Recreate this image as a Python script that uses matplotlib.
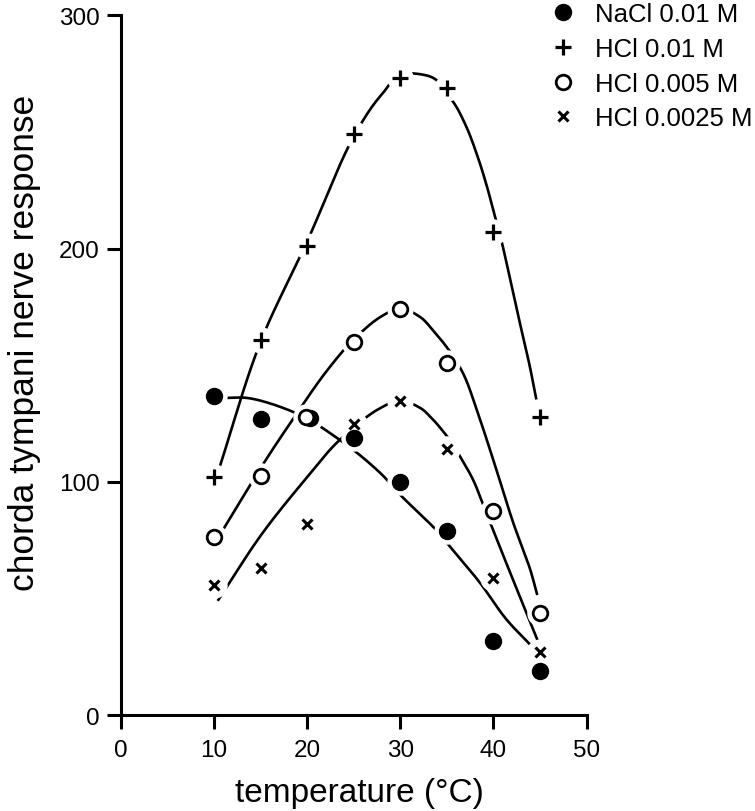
import numpy as np
import matplotlib
matplotlib.use('Agg')
import matplotlib.pyplot as plt
from matplotlib.lines import Line2D

plt.rcParams['font.family'] = ['Liberation Sans', 'DejaVu Sans']

# measured points
temps = [10, 15, 20, 25, 30, 35, 40, 45]
nacl_x = [10, 15, 20.3, 25, 30, 35, 40, 45]
nacl = [137, 127, 127.5, 119, 100, 79, 32, 19]
hcl_01 = [102, 161, 201, 249, 273, 269, 207, 128]
hcl_005_x = [10, 15, 19.9, 25, 30, 35, 40, 45]
hcl_005 = [76.5, 102.5, 128, 160, 174, 151, 87.5, 44]
hcl_0025 = [56, 63, 82, 125, 134.5, 114, 59, 27]

# hand-drawn curves, knots
nacl_cx = [11.4, 13.5, 18.5, 23.5, 27.8, 30.1, 33.7, 35.3, 38.5, 41.4, 43.9]
nacl_cy = [136, 136, 130, 118, 104, 94, 80, 72.4, 57, 41, 30.4]
hcl_01_cx = [10.5, 15, 20, 25, 28, 30.5, 33, 35.5, 37.0, 38.3, 39.3, 40.1, 40.9, 42.5, 43.9, 44.6]
hcl_01_cy = [105, 160, 203, 248, 266, 275, 274, 263.8, 253, 239.4, 226.6, 214.6, 202.6, 173.9, 149.5, 135.3]
hcl_005_cx = [10.9, 15.5, 18.5, 22, 25, 28, 30, 32, 33.5, 35.3, 36.8, 38.2, 40.3, 42.1, 43.9, 44.7]
hcl_005_cy = [79, 109, 127, 147, 161, 171, 174.5, 171, 165, 156, 146, 131, 105.4, 82.7, 63, 51.5]
hcl_0025_cx = [10.4, 15.2, 20, 23.5, 27.8, 30, 32, 33.2, 35.3, 36.4, 37.8, 38.8, 39.8, 42.1, 45]
hcl_0025_cy = [49, 78, 102, 118, 131.5, 135, 132, 128, 118, 111, 101, 91.2, 81, 58, 29.5]

labels = ['NaCl 0.01 M', 'HCl 0.01 M', 'HCl 0.005 M', 'HCl 0.0025 M']


def smooth(xs, ys, n=20):
	# centripetal catmull-rom through the knots
	p = np.column_stack([xs, ys]).astype(float)
	p = np.vstack([2*p[0] - p[1], p, 2*p[-1] - p[-2]])
	out = []
	for i in range(1, len(p) - 2):
		p0, p1, p2, p3 = p[i-1], p[i], p[i+1], p[i+2]
		t0 = 0.0
		t1 = t0 + np.linalg.norm(p1 - p0) ** 0.5
		t2 = t1 + np.linalg.norm(p2 - p1) ** 0.5
		t3 = t2 + np.linalg.norm(p3 - p2) ** 0.5
		t = np.linspace(t1, t2, n, endpoint=False)[:, None]
		a1 = (t1 - t) / (t1 - t0) * p0 + (t - t0) / (t1 - t0) * p1
		a2 = (t2 - t) / (t2 - t1) * p1 + (t - t1) / (t2 - t1) * p2
		a3 = (t3 - t) / (t3 - t2) * p2 + (t - t2) / (t3 - t2) * p3
		b1 = (t2 - t) / (t2 - t0) * a1 + (t - t0) / (t2 - t0) * a2
		b2 = (t3 - t) / (t3 - t1) * a2 + (t - t1) / (t3 - t1) * a3
		out.append((t2 - t) / (t2 - t1) * b1 + (t - t1) / (t2 - t1) * b2)
	out.append(p[-2][None, :])
	out = np.vstack(out)
	return out[:, 0], out[:, 1]


fig = plt.figure(figsize=(7.55, 8.12), dpi=100)
ax = fig.add_axes([0.160, 0.118, 0.617, 0.862])

for cx, cy in [(nacl_cx, nacl_cy), (hcl_01_cx, hcl_01_cy), (hcl_005_cx, hcl_005_cy), (hcl_0025_cx, hcl_0025_cy)]:
	sx, sy = smooth(cx, cy)
	ax.plot(sx, sy, color='black', lw=1.9, zorder=2, solid_capstyle='butt')

# white halos break the curves round the markers
allx = nacl_x + temps + hcl_005_x + temps
ally = nacl + hcl_01 + hcl_005 + hcl_0025
ax.plot(allx, ally, 'o', ms=19, color='white', mec='none', zorder=3)

ax.plot(nacl_x, nacl, 'o', ms=11.5, color='black', zorder=4)
ax.plot(temps, hcl_01, '+', ms=11, mew=2.3, color='black', zorder=4)
ax.plot(hcl_005_x, hcl_005, 'o', ms=10.5, mfc='white', mec='black', mew=2.0, zorder=5)
ax.plot(temps, hcl_0025, 'x', ms=7.5, mew=2.2, color='black', zorder=4)

ax.set_xlim(0, 50)
ax.set_ylim(0, 300)
ax.set_xticks([0, 10, 20, 30, 40, 50])
ax.set_yticks([0, 100, 200, 300])
for s in ['top', 'right']:
	ax.spines[s].set_visible(False)
for s in ['left', 'bottom']:
	ax.spines[s].set_linewidth(2.2)
ax.tick_params(direction='out', length=10, width=2.2, labelsize=17.5)
ax.tick_params(axis='x', pad=7)
ax.tick_params(axis='y', pad=5)
ax.set_xlabel('temperature (°C)', fontsize=24)
ax.set_ylabel('chorda tympani nerve response', fontsize=25.5)
ax.xaxis.set_label_coords(0.513, -0.089)
ax.yaxis.set_label_coords(-0.172, 0.534)

handles = [
	Line2D([], [], ls='none', marker='o', ms=11.5, color='black'),
	Line2D([], [], ls='none', marker='+', ms=11, mew=2.3, color='black'),
	Line2D([], [], ls='none', marker='o', ms=10.5, mfc='white', mec='black', mew=2.0),
	Line2D([], [], ls='none', marker='x', ms=7.5, mew=2.2, color='black'),
]
fig.legend(handles, labels, loc='upper left', bbox_to_anchor=(0.712, 1.012), frameon=False,
	fontsize=18.5, handlelength=1.0, handletextpad=0.75, labelspacing=0.42, borderpad=0)

fig.savefig('out.png', dpi=100)
